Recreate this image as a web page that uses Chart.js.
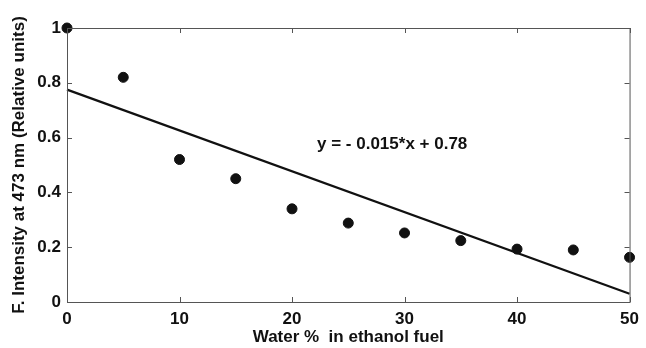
<!DOCTYPE html>
<html>
<head>
<meta charset="utf-8">
<script src="https://cdn.jsdelivr.net/npm/chart.js@4/dist/chart.umd.min.js"></script>
<style>
html,body{margin:0;padding:0;background:#fff;}
#wrap{width:646px;height:348px;position:relative;}
</style>
</head>
<body>
<div id="wrap"><canvas id="c" width="646" height="348"></canvas></div>
<script>
const waterPct = [0, 5, 10, 15, 20, 25, 30, 35, 40, 45, 50];
const intensity = [1.0, 0.82, 0.52, 0.45, 0.34, 0.288, 0.252, 0.224, 0.193, 0.19, 0.163];
const fitX = [0, 50];
const fitY = [0.775, 0.03];
const xTicks = [0, 10, 20, 30, 40, 50];
const yTicks = [0, 0.2, 0.4, 0.6, 0.8, 1];
const yTickLabels = ['0', '0.2', '0.4', '0.6', '0.8', '1'];
const equationText = "y = - 0.015*x + 0.78";
const equationPos = {x: 28.9, y: 0.577};

const FONT = "'Liberation Sans', Arial, sans-serif";

const framePlugin = {
  id: 'frame',
  afterDatasetsDraw(chart) {
    const {ctx, chartArea: a, scales: {x, y}} = chart;
    ctx.save();
    ctx.strokeStyle = '#555';
    ctx.lineWidth = 1;
    ctx.strokeRect(a.left + 0.5, a.top + 0.5, a.right - a.left, a.bottom - a.top);
    const t = 5;
    ctx.beginPath();
    xTicks.forEach(v => {
      const px = Math.round(x.getPixelForValue(v)) + 0.5;
      ctx.moveTo(px, a.bottom); ctx.lineTo(px, a.bottom - t);
      ctx.moveTo(px, a.top); ctx.lineTo(px, a.top + t);
    });
    yTicks.forEach(v => {
      const py = Math.round(y.getPixelForValue(v)) + 0.5;
      ctx.moveTo(a.left, py); ctx.lineTo(a.left + t, py);
      ctx.moveTo(a.right, py); ctx.lineTo(a.right - t, py);
    });
    ctx.stroke();
    ctx.fillStyle = '#111';
    ctx.font = "bold 17px " + FONT;
    ctx.textAlign = 'center';
    ctx.textBaseline = 'middle';
    ctx.fillText(equationText, x.getPixelForValue(equationPos.x), y.getPixelForValue(equationPos.y));
    ctx.restore();
  }
};

new Chart(document.getElementById('c'), {
  type: 'scatter',
  data: {
    datasets: [
      {
        type: 'line',
        data: fitX.map((v, i) => ({x: v, y: fitY[i]})),
        borderColor: '#111',
        borderWidth: 2.2,
        pointRadius: 0,
        fill: false,
        clip: false,
        order: 2
      },
      {
        data: waterPct.map((v, i) => ({x: v, y: intensity[i]})),
        backgroundColor: '#111',
        borderColor: '#111',
        pointRadius: 5,
        pointHoverRadius: 5,
        clip: false,
        order: 1
      }
    ]
  },
  options: {
    responsive: false,
    animation: false,
    devicePixelRatio: 1,
    layout: {padding: {top: 28, right: 12, left: 0, bottom: 0}},
    plugins: {legend: {display: false}, tooltip: {enabled: false}},
    scales: {
      x: {
        type: 'linear', min: 0, max: 50,
        afterBuildTicks(s) { s.ticks = xTicks.map(v => ({value: v})); },
        afterFit(s) { s.height = 46; },
        grid: {display: false, drawTicks: false},
        border: {display: false},
        ticks: {color: '#111', padding: 7, font: {family: FONT, size: 17, weight: 'bold'}},
        title: {display: true, text: 'Water %  in ethanol fuel', color: '#111', padding: {top: -3, bottom: 0},
                font: {family: FONT, size: 17, weight: 'bold'}}
      },
      y: {
        type: 'linear', min: 0, max: 1,
        afterBuildTicks(s) { s.ticks = yTicks.map(v => ({value: v})); },
        afterFit(s) { s.width = 67; },
        grid: {display: false, drawTicks: false},
        border: {display: false},
        ticks: {color: '#111', padding: 6, font: {family: FONT, size: 17, weight: 'bold'},
                callback: (v) => yTickLabels[yTicks.indexOf(v)] ?? String(v)},
        title: {display: true, text: 'F. Intensity at 473 nm (Relative units)', color: '#111', padding: {top: 9, bottom: 0},
                font: {family: FONT, size: 17, weight: 'bold'}}
      }
    }
  },
  plugins: [framePlugin]
});
</script>
</body>
</html>
